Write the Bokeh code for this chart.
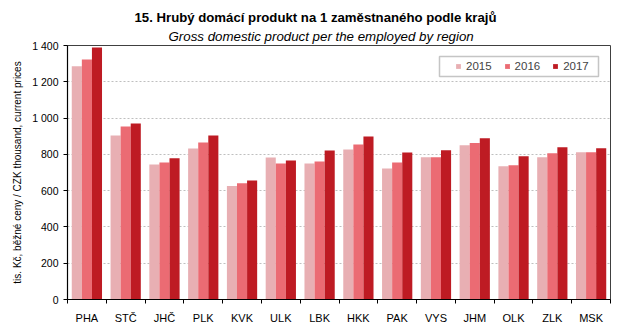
import numpy as np
from bokeh.plotting import figure
from bokeh.models import (ColumnDataSource, FixedTicker, Range1d, Title,
                          BoxAnnotation, Legend, LegendItem)
from bokeh.transform import dodge
from bokeh.embed import file_html
from bokeh.resources import INLINE

# ---------------- data ----------------
regions = ["PHA", "STČ", "JHČ", "PLK", "KVK", "ULK", "LBK",
           "HKK", "PAK", "VYS", "JHM", "OLK", "ZLK", "MSK"]
years = ["2015", "2016", "2017"]
v2015 = [1286, 904, 744, 832, 625, 783, 750, 827, 722, 784, 850, 735, 784, 812]
v2016 = [1323, 954, 755, 865, 641, 750, 761, 854, 755, 784, 862, 740, 806, 812]
v2017 = [1389, 970, 779, 904, 656, 766, 821, 898, 810, 823, 889, 790, 839, 834]
y_ticks = [0, 200, 400, 600, 800, 1000, 1200, 1400]
y_tick_labels = ["0", "200", "400", "600", "800", "1 000", "1 200", "1 400"]

title = "15. Hrubý domácí produkt na 1 zaměstnaného podle krajů"
subtitle = "Gross domestic product per the employed by region"
ylabel = "tis. Kč, běžné ceny / CZK thousand, current prices"

colors = ["#E8AFB3", "#EB6B73", "#BE1B23"]
FONT = "Liberation Sans"

# ---------------- layout ----------------
W, H = 643, 327
L, R, T, B = 67, 610, 45, 299
n = len(regions)

def fx(px):
    return (px - L) / ((R - L) / n)

def fy(py):
    return (B - py) * y_ticks[-1] / (B - T)

src = ColumnDataSource(dict(x=np.arange(n) + 0.5, y2015=v2015, y2016=v2016, y2017=v2017))

p = figure(width=W, height=H, output_backend="svg", toolbar_location=None,
           x_range=Range1d(0, n), y_range=Range1d(0, y_ticks[-1]),
           min_border_left=L, min_border_right=W - R,
           min_border_top=T, min_border_bottom=H - B)
p.background_fill_color = "white"
p.border_fill_color = "white"
p.outline_line_color = "#404040"
p.outline_line_width = 1

bw = 0.26
renderers = []
for col, off, c in zip(["y2015", "y2016", "y2017"], [-bw, 0, bw], colors):
    r = p.vbar(x=dodge("x", off), top=col, width=bw, bottom=0, source=src,
               fill_color=c, line_color=None)
    renderers.append(r)

# axes
p.xaxis.ticker = FixedTicker(ticks=list(np.arange(n) + 0.5),
                             minor_ticks=list(range(n + 1)))
p.xaxis.major_label_overrides = {float(i + 0.5): lab for i, lab in enumerate(regions)}
p.xaxis.major_tick_out = 0
p.xaxis.major_tick_in = 0
p.xaxis.minor_tick_out = 4
p.xaxis.minor_tick_in = 0
p.xaxis.minor_tick_line_color = "black"
p.xaxis.major_label_standoff = 8
p.xaxis.major_label_text_font = FONT
p.xaxis.major_label_text_font_size = "11px"
p.xaxis.major_label_text_color = "black"
p.xaxis.axis_line_color = "black"
p.xaxis.axis_line_width = 1.2

p.yaxis.ticker = FixedTicker(ticks=y_ticks, minor_ticks=[])
p.yaxis.major_label_overrides = {t: lab for t, lab in zip(y_ticks, y_tick_labels)}
p.yaxis.major_tick_out = 4
p.yaxis.major_tick_in = 0
p.yaxis.minor_tick_out = 0
p.yaxis.minor_tick_in = 0
p.yaxis.major_tick_line_color = "black"
p.yaxis.major_label_standoff = 5
p.yaxis.major_label_text_font = FONT
p.yaxis.major_label_text_font_size = "10.5px"
p.yaxis.major_label_text_color = "black"
p.yaxis.axis_line_color = "black"
p.yaxis.axis_line_width = 1.2
p.yaxis.axis_label = ylabel
p.yaxis.axis_label_text_font = FONT
p.yaxis.axis_label_text_font_size = "10px"
p.yaxis.axis_label_text_font_style = "normal"
p.yaxis.axis_label_text_color = "black"
p.yaxis.axis_label_standoff = 6

p.xgrid.visible = False
p.ygrid.grid_line_color = "#BFBFBF"
p.ygrid.grid_line_dash = "2 2"
p.ygrid.grid_line_width = 1

# legend frame + legend
p.add_layout(BoxAnnotation(left=fx(439), right=fx(598), top=fy(56), bottom=fy(76),
                           fill_alpha=0, line_color="#404040", line_width=1.5))
legend = Legend(items=[LegendItem(label=y, renderers=[r]) for y, r in zip(years, renderers)],
                orientation="horizontal", location=(388, 227),
                padding=0, margin=0, spacing=12,
                glyph_width=6, glyph_height=6, label_standoff=5,
                label_height=12, label_text_font=FONT, label_text_font_size="11.5px",
                border_line_alpha=0, background_fill_alpha=0)
p.add_layout(legend)

# titles (subtitle nearest to the frame, then the main title)
p.add_layout(Title(text=subtitle, align="left", offset=101, standoff=4,
                   text_font=FONT, text_font_size="13.3px", text_font_style="italic",
                   text_color="black"), "above")
p.add_layout(Title(text=title, align="left", offset=67, standoff=0,
                   text_font=FONT, text_font_size="13.2px", text_font_style="bold",
                   text_color="black"), "above")

open("out.html", "w").write(file_html(p, INLINE))
